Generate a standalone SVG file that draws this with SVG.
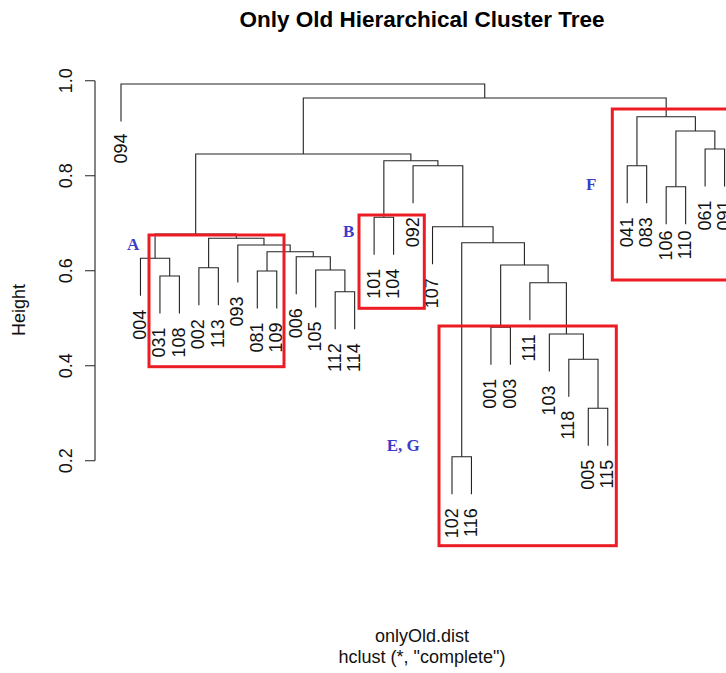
<svg xmlns="http://www.w3.org/2000/svg" width="726" height="673" viewBox="0 0 726 673">
<style>
.br{fill:none;stroke:#222;stroke-width:1.1}
.ax{fill:none;stroke:#222;stroke-width:1.1}
.lab{font-family:"Liberation Sans",Arial,sans-serif;font-size:18px;fill:#111;text-anchor:end}
.tick{font-family:"Liberation Sans",Arial,sans-serif;font-size:18px;fill:#111;text-anchor:middle}
.box{fill:none;stroke:#ec1c24;stroke-width:3}
.cl{font-family:"Liberation Serif","Times New Roman",serif;font-size:17px;font-weight:bold;fill:#3c3cc8}
.title{font-family:"Liberation Sans",Arial,sans-serif;font-size:22.5px;font-weight:bold;fill:#000;text-anchor:middle}
.sub{font-family:"Liberation Sans",Arial,sans-serif;font-size:18px;fill:#111;text-anchor:middle}
</style>
<rect width="726" height="673" fill="#fff"/>
<text class="title" x="422" y="27">Only Old Hierarchical Cluster Tree</text>
<g id="axis">
<path class="ax" d="M95 80.7V460.7M85 80.7H95M85 175.7H95M85 270.7H95M85 365.7H95M85 460.7H95"/>
<text class="tick" transform="translate(72,80.7) rotate(-90)">1.0</text>
<text class="tick" transform="translate(72,175.7) rotate(-90)">0.8</text>
<text class="tick" transform="translate(72,270.7) rotate(-90)">0.6</text>
<text class="tick" transform="translate(72,365.7) rotate(-90)">0.4</text>
<text class="tick" transform="translate(72,460.7) rotate(-90)">0.2</text>
<text class="tick" transform="translate(25,310) rotate(-90)">Height</text>
</g>
<g id="connectors">
<path class="br" d="M121 121.5V84H484.73V98"/>
<path class="br" d="M303.29 154V98H666.17V116.7"/>
<path class="br" d="M195.69 234V154H410.88V160.7"/>
<path class="br" d="M155.07 258.3V234H236.3V238.3"/>
<path class="br" d="M140.47 295.8V258.3H169.68V276"/>
<path class="br" d="M159.94 313.5V276H179.41V313.5"/>
<path class="br" d="M208.62 267.7V238.3H263.98V245"/>
<path class="br" d="M198.88 305.2V267.7H218.35V305.2"/>
<path class="br" d="M237.82 282.5V245H290.15V251.7"/>
<path class="br" d="M267.03 271V251.7H313.27V256.7"/>
<path class="br" d="M257.29 308.5V271H276.76V308.5"/>
<path class="br" d="M296.23 294.2V256.7H330.3V270"/>
<path class="br" d="M315.7 307.5V270H344.9V291.7"/>
<path class="br" d="M335.17 329.2V291.7H354.64V329.2"/>
<path class="br" d="M383.85 217.3V160.7H437.92V165.7"/>
<path class="br" d="M374.11 254.8V217.3H393.58V254.8"/>
<path class="br" d="M413.05 203.2V165.7H462.79V226.7"/>
<path class="br" d="M432.52 264.2V226.7H493.06V242.7"/>
<path class="br" d="M461.73 456.7V242.7H524.4V265"/>
<path class="br" d="M451.99 494.2V456.7H471.46V494.2"/>
<path class="br" d="M500.67 327.3V265H548.12V282.7"/>
<path class="br" d="M490.93 364.8V327.3H510.4V364.8"/>
<path class="br" d="M529.87 320.2V282.7H566.38V334"/>
<path class="br" d="M549.34 371.5V334H583.41V359.3"/>
<path class="br" d="M568.81 396.8V359.3H598.02V408.3"/>
<path class="br" d="M588.28 445.8V408.3H607.75V445.8"/>
<path class="br" d="M636.96 165.7V116.7H695.37V131"/>
<path class="br" d="M627.22 203.2V165.7H646.69V203.2"/>
<path class="br" d="M675.9 186.7V131H714.84V149"/>
<path class="br" d="M666.16 224.2V186.7H685.63V224.2"/>
<path class="br" d="M705.1 186.5V149H724.57V186.5"/>
</g>
<g id="leaf-094"><text class="lab" transform="translate(126.5,133.5) rotate(-90)">094</text></g>
<g id="leaf-004"><text class="lab" transform="translate(146,309.8) rotate(-90)">004</text></g>
<g id="leaf-031"><text class="lab" transform="translate(165.4,327.5) rotate(-90)">031</text></g>
<g id="leaf-108"><text class="lab" transform="translate(184.9,327.5) rotate(-90)">108</text></g>
<g id="leaf-002"><text class="lab" transform="translate(204.4,319.2) rotate(-90)">002</text></g>
<g id="leaf-113"><text class="lab" transform="translate(223.9,319.2) rotate(-90)">113</text></g>
<g id="leaf-093"><text class="lab" transform="translate(243.3,296.5) rotate(-90)">093</text></g>
<g id="leaf-081"><text class="lab" transform="translate(262.8,322.5) rotate(-90)">081</text></g>
<g id="leaf-109"><text class="lab" transform="translate(282.3,322.5) rotate(-90)">109</text></g>
<g id="leaf-006"><text class="lab" transform="translate(301.7,308.2) rotate(-90)">006</text></g>
<g id="leaf-105"><text class="lab" transform="translate(321.2,321.5) rotate(-90)">105</text></g>
<g id="leaf-112"><text class="lab" transform="translate(340.7,343.2) rotate(-90)">112</text></g>
<g id="leaf-114"><text class="lab" transform="translate(360.1,343.2) rotate(-90)">114</text></g>
<g id="leaf-101"><text class="lab" transform="translate(379.6,268.8) rotate(-90)">101</text></g>
<g id="leaf-104"><text class="lab" transform="translate(399.1,268.8) rotate(-90)">104</text></g>
<g id="leaf-092"><text class="lab" transform="translate(418.6,217.2) rotate(-90)">092</text></g>
<g id="leaf-107"><text class="lab" transform="translate(438,278.2) rotate(-90)">107</text></g>
<g id="leaf-102"><text class="lab" transform="translate(457.5,508.2) rotate(-90)">102</text></g>
<g id="leaf-116"><text class="lab" transform="translate(477,508.2) rotate(-90)">116</text></g>
<g id="leaf-001"><text class="lab" transform="translate(496.4,378.8) rotate(-90)">001</text></g>
<g id="leaf-003"><text class="lab" transform="translate(515.9,378.8) rotate(-90)">003</text></g>
<g id="leaf-111"><text class="lab" transform="translate(535.4,334.2) rotate(-90)">111</text></g>
<g id="leaf-103"><text class="lab" transform="translate(554.8,385.5) rotate(-90)">103</text></g>
<g id="leaf-118"><text class="lab" transform="translate(574.3,410.8) rotate(-90)">118</text></g>
<g id="leaf-005"><text class="lab" transform="translate(593.8,459.8) rotate(-90)">005</text></g>
<g id="leaf-115"><text class="lab" transform="translate(613.2,459.8) rotate(-90)">115</text></g>
<g id="leaf-041"><text class="lab" transform="translate(632.7,217.2) rotate(-90)">041</text></g>
<g id="leaf-083"><text class="lab" transform="translate(652.2,217.2) rotate(-90)">083</text></g>
<g id="leaf-106"><text class="lab" transform="translate(671.7,230.5) rotate(-90)">106</text></g>
<g id="leaf-110"><text class="lab" transform="translate(691.1,230.5) rotate(-90)">110</text></g>
<g id="leaf-061"><text class="lab" transform="translate(710.6,200.5) rotate(-90)">061</text></g>
<g id="leaf-091"><text class="lab" transform="translate(730.1,200.5) rotate(-90)">091</text></g>
<g id="cluster-A"><rect class="box" x="149" y="235" width="135" height="131.7"/><text class="cl" x="127" y="250">A</text></g>
<g id="cluster-B"><rect class="box" x="359" y="215" width="65.3" height="93.3"/><text class="cl" x="343" y="236.7">B</text></g>
<g id="cluster-EG"><rect class="box" x="439" y="326" width="177.3" height="219.7"/><text class="cl" x="386.7" y="450.7">E, G</text></g>
<g id="cluster-F"><rect class="box" x="612.3" y="109" width="120" height="171"/><text class="cl" x="586" y="190">F</text></g>
<text class="sub" x="422" y="642">onlyOld.dist</text>
<text class="sub" x="422" y="663">hclust (*, "complete")</text>
</svg>
